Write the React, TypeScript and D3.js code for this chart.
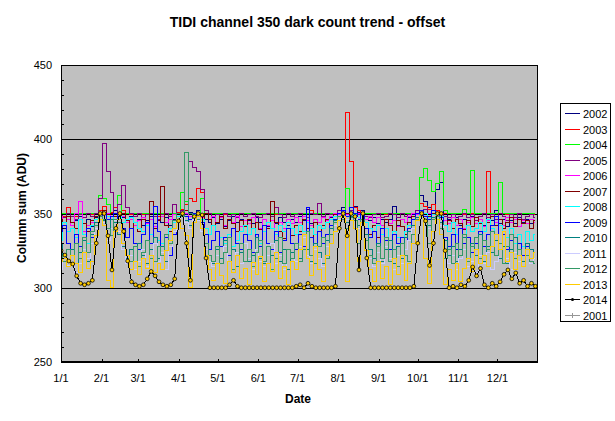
import React from 'react';
import * as d3 from 'd3';

// sampling grid: every 3rd day of the year (day-of-year 0 = Jan 1)
const days = d3.range(0, 364, 3);

const monthDays = [0, 31, 59, 90, 120, 151, 181, 212, 243, 273, 304, 334];
const monthLabels = ['1/1', '2/1', '3/1', '4/1', '5/1', '6/1', '7/1', '8/1', '9/1', '10/1', '11/1', '12/1'];
const yMajor = [250, 300, 350, 400, 450];
const yMinor = d3.range(250, 451, 10);

const years = ['2002', '2003', '2004', '2005', '2006', '2007', '2008', '2009', '2010', '2011', '2012', '2013', '2014', '2001'];
const colors = ['#000080', '#FF0000', '#00FF00', '#800080', '#FF00FF', '#800000', '#00FFFF', '#0000FF', '#008080', '#CCCCFF', '#339966', '#FFCC00', '#000000', '#969696'];

const v2002 = [
  344, 340, 346, 342, 345, 348, 343, 346, 341, 347,
  350, 352, 348, 350, 352, 349, 347, 345, 348, 344,
  346, 342, 345, 348, 343, 346, 344, 347, 342, 346,
  350, 352, 349, 351, 350, 352, 348, 346, 344, 347,
  343, 346, 341, 345, 348, 344, 346, 342, 345, 343,
  347, 344, 346, 341, 345, 343, 347, 344, 342, 346,
  344, 348, 345, 353, 343, 346, 344, 348, 345, 347,
  350, 352, 354, 350, 352, 355, 351, 352, 348, 345,
  347, 343, 346, 344, 346, 355, 342, 346, 344, 347,
  349, 352, 362, 358, 354, 356, 366, 371, 350, 346,
  344, 347, 342, 346, 344, 348, 343, 346, 342, 347,
  345, 352, 343, 346, 341, 345, 343, 347, 344, 346,
  343, 345,
];
const v2003 = [
  349, 348, 354, 350, 348, 349, 347, 350, 349, 348,
  352, 355, 350, 351, 354, 356, 352, 350, 349, 350,
  350, 349, 350, 350, 350, 348, 350, 350, 350, 350,
  351, 353, 356, 360, 358, 367, 364, 352, 350, 350,
  350, 350, 349, 350, 350, 350, 350, 350, 349, 350,
  350, 350, 350, 350, 350, 349, 350, 350, 350, 350,
  350, 350, 350, 350, 352, 350, 350, 350, 350, 350,
  350, 352, 351, 418, 385, 354, 352, 351, 350, 350,
  350, 350, 350, 349, 350, 350, 350, 350, 350, 350,
  350, 352, 357, 355, 353, 356, 352, 350, 350, 350,
  350, 350, 350, 349, 350, 350, 350, 350, 350, 378,
  350, 350, 350, 350, 349, 350, 350, 350, 350, 350,
  350, 349,
];
const v2004 = [
  350, 350, 350, 350, 350, 350, 350, 350, 350, 350,
  362, 360, 356, 350, 350, 362, 350, 350, 350, 350,
  350, 350, 350, 350, 350, 350, 350, 350, 350, 350,
  350, 364, 358, 350, 350, 350, 360, 350, 350, 350,
  350, 350, 350, 350, 350, 350, 350, 350, 350, 350,
  350, 350, 350, 350, 350, 350, 350, 350, 350, 350,
  350, 350, 350, 350, 350, 350, 350, 350, 350, 350,
  350, 350, 350, 367, 350, 350, 350, 350, 350, 350,
  350, 350, 350, 350, 350, 350, 350, 350, 350, 350,
  350, 350, 374, 380, 372, 365, 370, 378, 352, 350,
  350, 350, 350, 353, 350, 379, 350, 350, 350, 350,
  350, 350, 371, 350, 350, 350, 350, 350, 350, 350,
  350, 350,
];
const v2005 = [
  349, 347, 350, 348, 346, 349, 347, 350, 348, 350,
  360, 397, 378, 364, 350, 356, 369, 354, 350, 348,
  350, 347, 349, 350, 348, 346, 349, 350, 348, 356,
  350, 352, 350, 385, 381, 378, 366, 352, 350, 348,
  349, 347, 350, 348, 349, 347, 350, 348, 349, 350,
  348, 347, 349, 350, 348, 354, 349, 347, 350, 348,
  349, 350, 348, 347, 350, 349, 357, 348, 350, 349,
  350, 352, 351, 350, 352, 350, 349, 350, 348, 347,
  349, 350, 347, 348, 350, 349, 347, 350, 348, 349,
  350, 352, 351, 353, 350, 352, 351, 350, 348, 347,
  349, 346, 348, 350, 347, 349, 345, 348, 350, 347,
  349, 346, 350, 348, 345, 349, 347, 350, 346, 348,
  349, 347,
];
const v2006 = [
  348, 344, 346, 342, 350, 358, 338, 342, 344, 348,
  350, 349, 350, 348, 350, 349, 348, 344, 346, 342,
  345, 347, 343, 346, 341, 345, 348, 344, 346, 349,
  350, 349, 350, 348, 350, 349, 347, 350, 346, 348,
  344, 347, 342, 346, 344, 348, 341, 345, 343, 347,
  344, 340, 346, 342, 345, 338, 344, 340, 346, 343,
  347, 344, 348, 345, 342, 346, 344, 347, 345, 348,
  350, 349, 350, 349, 350, 348, 350, 349, 346, 348,
  344, 347, 342, 346, 343, 345, 341, 346, 344, 348,
  350, 349, 350, 348, 350, 349, 350, 348, 345, 343,
  347, 342, 346, 340, 344, 347, 343, 346, 341, 345,
  348, 344, 346, 342, 347, 344, 346, 341, 345, 343,
  346, 344,
];
const v2007 = [
  346, 342, 348, 344, 340, 346, 343, 338, 345, 348,
  350, 352, 349, 350, 348, 346, 350, 345, 340, 344,
  338, 346, 342, 358, 340, 345, 368, 342, 338, 345,
  350, 349, 352, 350, 349, 348, 346, 350, 346, 342,
  344, 348, 340, 346, 343, 338, 345, 341, 346, 340,
  344, 339, 342, 340, 358, 344, 338, 333, 340, 335,
  342, 338, 346, 340, 334, 344, 338, 342, 346, 340,
  349, 350, 348, 350, 349, 350, 346, 350, 344, 336,
  342, 334, 340, 346, 342, 338, 345, 341, 336, 344,
  348, 350, 349, 350, 348, 350, 349, 347, 342, 345,
  340, 346, 343, 339, 345, 341, 347, 343, 338, 344,
  348, 342, 346, 340, 344, 347, 341, 346, 343, 345,
  340, 345,
];
const v2008 = [
  332, 344, 338, 340, 334, 346, 336, 330, 342, 346,
  348, 350, 348, 346, 350, 348, 344, 346, 347, 344,
  340, 338, 342, 336, 334, 332, 330, 336, 340, 344,
  348, 350, 348, 346, 349, 350, 346, 340, 336, 342,
  338, 334, 330, 336, 328, 332, 338, 342, 336, 340,
  334, 330, 338, 344, 340, 336, 342, 338, 344, 340,
  336, 342, 338, 344, 340, 336, 342, 340, 344, 346,
  348, 350, 349, 348, 350, 349, 347, 350, 344, 340,
  338, 342, 336, 340, 332, 338, 334, 330, 338, 342,
  346, 350, 348, 350, 347, 349, 350, 348, 342, 338,
  344, 336, 340, 334, 342, 338, 340, 344, 338, 346,
  340, 336, 342, 338, 334, 340, 330, 336, 328, 338,
  332, 336,
];
const v2009 = [
  338, 342, 330, 322, 336, 328, 332, 340, 334, 344,
  348, 350, 346, 348, 350, 344, 340, 334, 340, 330,
  326, 336, 344, 330, 355, 338, 328, 334, 322, 336,
  346, 350, 348, 346, 350, 349, 344, 336, 326, 332,
  338, 328, 334, 322, 340, 330, 326, 336, 332, 324,
  336, 328, 342, 330, 326, 338, 324, 332, 340, 330,
  326, 336, 328, 354, 334, 326, 338, 330, 336, 342,
  346, 350, 352, 348, 354, 350, 346, 350, 340, 334,
  338, 328, 340, 332, 326, 336, 330, 334, 326, 340,
  346, 350, 352, 348, 346, 352, 350, 347, 334, 328,
  336, 326, 340, 330, 334, 324, 330, 338, 328, 336,
  342, 348, 330, 336, 326, 332, 324, 330, 322, 328,
  326, 324,
];
const v2010 = [
  330, 322, 318, 326, 316, 324, 332, 318, 336, 344,
  348, 345, 340, 346, 344, 336, 328, 320, 326, 318,
  330, 322, 316, 326, 334, 320, 328, 318, 332, 340,
  346, 348, 345, 342, 347, 346, 340, 330, 322, 316,
  326, 320, 332, 318, 326, 314, 324, 330, 318, 322,
  334, 320, 316, 328, 322, 332, 318, 326, 312, 324,
  330, 320, 336, 326, 318, 330, 324, 316, 332, 340,
  345, 348, 346, 344, 348, 347, 342, 346, 336, 326,
  320, 330, 318, 326, 332, 316, 328, 320, 334, 338,
  342, 347, 348, 346, 342, 347, 348, 344, 332, 322,
  328, 318, 326, 334, 320, 330, 322, 336, 318, 328,
  324, 332, 320, 328, 316, 326, 334, 322, 318, 330,
  326, 320,
];
const v2011 = [
  312, 318, 315, 322, 310, 316, 326, 320, 330, 340,
  346, 344, 332, 340, 345, 338, 326, 316, 322, 312,
  318, 326, 314, 320, 330, 318, 324, 312, 328, 338,
  346, 348, 344, 340, 346, 345, 338, 326, 318, 314,
  322, 316, 328, 318, 310, 324, 316, 330, 320, 312,
  326, 318, 314, 322, 330, 316, 322, 312, 326, 320,
  318, 328, 334, 322, 316, 326, 320, 314, 328, 336,
  342, 346, 348, 346, 345, 347, 340, 346, 332, 320,
  314, 324, 316, 328, 320, 312, 322, 316, 326, 332,
  340, 346, 348, 344, 340, 346, 348, 342, 326, 316,
  322, 312, 320, 326, 314, 318, 310, 322, 316, 324,
  312, 318, 326, 316, 320, 312, 324, 318, 314, 322,
  316, 320,
];
const v2012 = [
  322, 318, 326, 316, 330, 320, 334, 324, 338, 342,
  348, 346, 340, 335, 346, 344, 330, 322, 318, 328,
  314, 324, 332, 320, 318, 328, 322, 336, 330, 345,
  350, 348, 391, 350, 348, 346, 340, 330, 322, 318,
  328, 316, 324, 334, 312, 322, 330, 318, 326, 314,
  324, 332, 318, 328, 312, 320, 334, 316, 326, 320,
  330, 318, 326, 338, 322, 316, 328, 334, 320, 336,
  344, 348, 346, 340, 347, 345, 330, 346, 332, 322,
  316, 328, 320, 334, 318, 326, 314, 330, 322, 318,
  336, 346, 348, 344, 330, 346, 348, 340, 320, 326,
  316, 330, 322, 336, 318, 328, 334, 320, 332, 326,
  338, 322, 330, 316, 328, 336, 320, 326, 314, 322,
  318, 316,
];
const v2013 = [
  318, 320, 314, 322, 316, 310, 324, 313, 318, 335,
  346, 342, 305, 300, 338, 346, 330, 322, 312, 318,
  309, 320, 313, 322, 310, 316, 312, 325, 332, 340,
  346, 340, 335, 300, 344, 348, 340, 322, 312, 305,
  316, 308, 303, 318, 310, 322, 306, 313, 302, 317,
  309, 321, 304, 316, 311, 324, 306, 314, 302, 318,
  312, 326, 336, 320, 308, 328, 312, 304, 322, 330,
  338, 345, 348, 304, 345, 340, 318, 344, 325, 312,
  304, 318, 306, 314, 302, 320, 309, 322, 305, 316,
  330, 345, 348, 320, 303, 338, 346, 336, 302, 312,
  305, 316, 304, 313, 320, 311, 326, 316, 322, 314,
  328, 336, 326, 338, 318, 324, 312, 322, 314, 326,
  320, 324,
];
const v2014 = [
  325, 322, 318, 316, 308, 303, 302, 303, 305, 330,
  350, 350, 335, 312, 340, 350, 338, 318, 304, 302,
  301, 302, 306, 311, 308, 304, 302, 301, 302, 306,
  345, 350, 330, 305, 348, 350, 349, 320, 300, 300,
  300, 300, 300, 302, 305, 301, 300, 300, 300, 300,
  300, 300, 300, 300, 300, 300, 300, 300, 300, 300,
  301, 302, 300, 303, 301, 300, 300, 300, 300, 300,
  301, 340, 350, 335, 350, 348, 312, 350, 320, 300,
  300, 300, 300, 300, 300, 300, 300, 300, 300, 300,
  301, 330, 350, 345, 315, 330, 350, 350, 325, 300,
  301, 300, 302, 301, 305, 314, 308, 313, 302, 300,
  303, 301, 304, 309, 312, 306, 310, 303, 305, 301,
  303, 301,
];
const v2001: number[] = [];

const seriesValues = [v2002, v2003, v2004, v2005, v2006, v2007, v2008, v2009, v2010, v2011, v2012, v2013, v2014, v2001];

const FONT = 'Liberation Sans, Arial, Helvetica, sans-serif';

export default function App() {
  const L = 61, R = 538, T = 65, B = 362;
  const x = d3.scaleLinear().domain([0, 365]).range([L, R]);
  const y = d3.scaleLinear().domain([250, 450]).range([B, T]);

  const stepLine = d3
    .line<number>()
    .x((_, i) => x(days[i]))
    .y((d) => y(d))
    .curve(d3.curveStep);
  const straightLine = d3
    .line<number>()
    .x((_, i) => x(days[i]))
    .y((d) => y(d));

  const legendTop = 103;
  const legendRowY = (k: number) => 113.3 + k * 15.5;

  return (
    <svg
      width={615}
      height={421}
      style={{ position: 'absolute', left: 0, top: 0, display: 'block' }}
      fontFamily={FONT}
    >
      <defs>
        <clipPath id="plotClip">
          <rect x={L} y={T} width={R - L} height={B - T} />
        </clipPath>
      </defs>
      <rect x={0} y={0} width={615} height={421} fill="#FFFFFF" />
      <rect x={L} y={T} width={R - L} height={B - T} fill="#C0C0C0" />
      {yMajor.map((v) => (
        <line key={'g' + v} x1={L} x2={R} y1={Math.round(y(v)) + 0.5} y2={Math.round(y(v)) + 0.5} stroke="#000" strokeWidth={1} shapeRendering="crispEdges" />
      ))}
      <g clipPath="url(#plotClip)">
        {seriesValues.map((vals, si) => {
          if (!vals.length) return null;
          const isBlack = years[si] === '2014';
          return (
            <path
              key={years[si]}
              d={(isBlack ? straightLine(vals) : stepLine(vals)) || ''}
              fill="none"
              stroke={colors[si]}
              strokeWidth={1}
              shapeRendering="crispEdges"
            />
          );
        })}
        {v2014.map((v, i) => (
          <circle key={'m' + i} cx={x(days[i])} cy={y(v)} r={1.9} fill="#FFCC00" stroke="#000" strokeWidth={0.8} />
        ))}
      </g>
      <rect x={L + 0.5} y={T + 0.5} width={R - L - 1} height={B - T - 1} fill="none" stroke="#000" strokeWidth={1} shapeRendering="crispEdges" />
      {yMinor.map((v) => (
        <line key={'yt' + v} x1={L} x2={L + 3} y1={Math.round(y(v)) + 0.5} y2={Math.round(y(v)) + 0.5} stroke="#000" shapeRendering="crispEdges" />
      ))}
      {monthDays.map((d) => (
        <line key={'xt' + d} x1={Math.round(x(d)) + 0.5} x2={Math.round(x(d)) + 0.5} y1={B} y2={B - 3} stroke="#000" shapeRendering="crispEdges" />
      ))}
      {yMajor.map((v) => (
        <text key={'yl' + v} x={52} y={y(v) + 4} textAnchor="end" fontSize={11} fill="#000">
          {v}
        </text>
      ))}
      {monthDays.map((d, i) => (
        <text key={'xl' + d} x={x(d)} y={382} textAnchor="middle" fontSize={11} fill="#000">
          {monthLabels[i]}
        </text>
      ))}
      <text x={307.5} y={27} textAnchor="middle" fontSize={14} fontWeight="bold" fill="#000">
        TIDI channel 350 dark count trend - offset
      </text>
      <text x={298} y={403} textAnchor="middle" fontSize={12} fontWeight="bold" fill="#000">
        Date
      </text>
      <text transform="translate(26,208) rotate(-90)" textAnchor="middle" fontSize={12} fontWeight="bold" fill="#000">
        Column sum (ADU)
      </text>
      <rect x={560.5} y={legendTop + 0.5} width={50} height={218} fill="#FFFFFF" stroke="#000" strokeWidth={1} shapeRendering="crispEdges" />
      {years.map((yr, k) => {
        const ly = Math.round(legendRowY(k)) + 0.5;
        return (
          <g key={'lg' + yr}>
            <line x1={565} x2={580} y1={ly} y2={ly} stroke={colors[k]} strokeWidth={1} shapeRendering="crispEdges" />
            {yr === '2014' && <circle cx={572.5} cy={ly} r={1.5} fill="#000" />}
            {yr === '2001' && (
              <path d={`M${570},${ly}H${575}M${572.5},${ly - 2.5}V${ly + 2.5}`} stroke={colors[k]} strokeWidth={1} shapeRendering="crispEdges" />
            )}
            <text x={583} y={ly + 4} fontSize={11} fill="#000">
              {yr}
            </text>
          </g>
        );
      })}
    </svg>
  );
}
